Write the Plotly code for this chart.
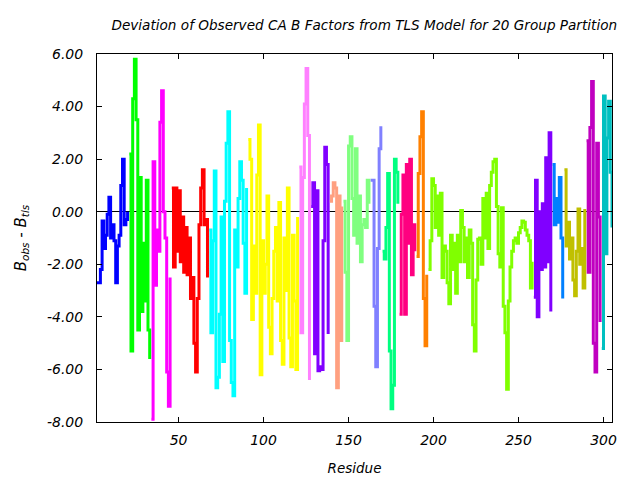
import plotly.graph_objects as go

# ---- data: one list of residue-deviation values per TLS group ----
group_start = [2, 21, 34, 46, 68, 91, 121, 128, 139, 147,
               163, 170, 180, 190, 197, 259, 270, 277, 290, 299]

g01 = [-2.7, -2.7, -2.2, -0.35, -1.4, -0.9, -0.1, 0.55, -1.0, -0.5, -1.1, -2.7, -1.3, -0.9, 1.0, 2.0, -0.5, -0.3, 0.0]
g02 = [2.2, -5.3, 4.3, 5.8, 3.5, -4.5, 1.3, -3.8, -1.2, -3.4, 1.2, -4.5, -5.6]
g03 = [-7.9, 1.9, -2.8, -0.7, -1.5, 3.4, 4.6, 0.0, -1.0, -6.1, -7.4, -2.5]
g04 = [0.9, -2.1, 0.9, -1.5, 0.8, -1.9, -0.2, -2.3, -0.6, -2.4, -1.0, -3.3, -2.5, -5.0, -6.1, -3.3, -0.5, 0.9, 1.6, -0.5, -0.3, -2.5]
g05 = [-0.7, -4.6, -1.1, 1.55, -6.7, -6.3, -3.9, -0.2, -5.7, 0.4, 2.6, 3.8, -4.9, -6.5, -7.0, -0.7, -2.1, 0.5, 1.9, 1.2, -1.2, -3.1, 0.9]
g06 = [2.75, 2.0, -4.1, -1.3, -3.1, 1.4, 3.3, -6.2, -1.1, -3.1, -2.0, 0.6, -4.4, -5.4, -3.3, -1.5, -0.6, -3.4, 0.35, -4.9,
       -5.8, -1.0, -3.0, 0.9, -4.8, -5.9, -0.9, -3.4, -6.0, -0.2]
g07 = [1.7, -4.6, 1.3, 4.1, 5.45, 2.9, -6.4]
g08 = [0.2, 1.1, -5.4, 0.8, -6.05, -5.9, -6.0, -1.1, 2.45, 1.8, -4.65]
g09 = [0.4, 0.6, 1.1, 0.9, -6.7, 0.6, -4.9, 0.2]
g10 = [0.4, -2.3, -4.9, 2.5, 2.85, 0.5, -0.9, 2.4, -1.2, 0.6, -1.9, -0.5, -0.3, -0.6, 1.2, 0.3]
g11 = [1.2, 1.2, -3.6, -5.9, -1.4, 2.4, 3.25]
g12 = [-1.5, -1.8, -0.6, 1.45, -5.3, -7.5, -6.6, 2.0, 1.5, 0.3]
g13 = [-3.9, -0.1, 1.4, -3.9, 1.8, -1.2, 2.0, -2.4, -0.5, -1.5]
g14 = [-1.7, 1.45, 2.85, 3.8, -3.3, -5.1, -2.4]
g15 = [-2.2, -1.1, 1.25, 1.0, -0.6, 0.6, -0.9,
       0.7, -2.5, -1.3, -1.5, -2.7, -3.5, -0.9, -2.2, -1.2, -3.1, -0.9, -1.9, 0.05, -0.6, -1.9, -1.0, -2.5, -0.7,
       -1.2, -4.3, -5.3, -2.6, -1.05, -1.0, -2.0, 0.5, -1.0, 0.7, -1.4, 1.0, 1.5, 1.9, 2.0, 0.2, -1.6, -2.1, 0.15,
       -3.6, -4.6, -6.75, -3.4, -2.1, -1.5, -1.1, -1.0, -1.2, -0.8, -0.6, -0.35, -0.4, -0.7, -0.9,
       -1.1, -2.9, -1.9]
g16 = [-3.25, 1.2, -4.0, 0.0, -2.2, 0.3, -2.1, 2.05, -1.9, 3.0, -3.8]
g17 = [1.8, -0.5, 0.5, -0.4, 1.3, -1.0, -3.3]
g18 = [1.6, -1.3, -0.4, -1.8, -1.0, -2.6, -3.2, -1.5, 0.1, -2.0, -1.4, -2.9, 0.1]
g19 = [2.7, -2.3, 3.2, 4.95, -5.0, -6.1, 2.6, -0.2, -4.2]
g20 = [-5.2, 4.4, -1.6, 2.8, 4.2, 1.5, -0.6]

group_values = [g01, g02, g03, g04, g05, g06, g07, g08, g09, g10,
                g11, g12, g13, g14, g15, g16, g17, g18, g19, g20]

group_colors = ["#0000ff", "#00ff00", "#ff00ff", "#ff0000", "#00ffff",
                "#ffff00", "#ff80ff", "#8000ff", "#ffa080", "#80ff80",
                "#8080ff", "#00ff80", "#ff0080", "#ff8000", "#80ff00",
                "#8000ff", "#0080ff", "#c0c000", "#c000c0", "#00c0c0"]

x_ticks = [50, 100, 150, 200, 250, 300]
y_ticks = [-8, -6, -4, -2, 0, 2, 4, 6]
y_tick_labels = ["-8.00", "-6.00", "-4.00", "-2.00", "0.00", "2.00", "4.00", "6.00"]

FONT = "DejaVu Sans"

fig = go.Figure()
for start, vals, col in zip(group_start, group_values, group_colors):
    res = list(range(start, start + len(vals)))
    fig.add_trace(go.Scatter(x=res, y=vals, mode="lines",
                             line=dict(color=col, width=3, shape="hv"),
                             showlegend=False, hoverinfo="skip"))

axis_common = dict(showline=True, linecolor="black", linewidth=1, mirror="ticks",
                   ticks="inside", ticklen=5, tickcolor="black", tickwidth=1,
                   showgrid=False,
                   tickfont=dict(family=FONT, size=14, color="black", style="italic"))

fig.update_xaxes(range=[2, 305], tickvals=x_ticks, zeroline=False,
                 ticklabelstandoff=5,
                 title=dict(text="Residue", standoff=16,
                            font=dict(family=FONT, size=13.5, color="black", style="italic")),
                 **axis_common)
fig.update_yaxes(range=[-8, 6], tickvals=y_ticks, ticktext=y_tick_labels,
                 zeroline=True, zerolinecolor="black", zerolinewidth=1,
                 ticklabelstandoff=10,
                 title=dict(text="B<sub>obs</sub> - B<sub>tls</sub>", standoff=16,
                            font=dict(family=FONT, size=15, color="black", style="italic")),
                 **axis_common)

fig.update_layout(
    width=640, height=480,
    margin=dict(l=77, r=36, t=46, b=66),
    paper_bgcolor="white", plot_bgcolor="white",
    title=dict(text="Deviation of Observed CA B Factors from TLS Model for 20 Group Partition",
               x=0.519, xref="paper", xanchor="center",
               y=1 - 17 / 480, yref="container", yanchor="middle",
               font=dict(family=FONT, size=13.6, color="black", style="italic")),
)

fig.write_html("out.html")
